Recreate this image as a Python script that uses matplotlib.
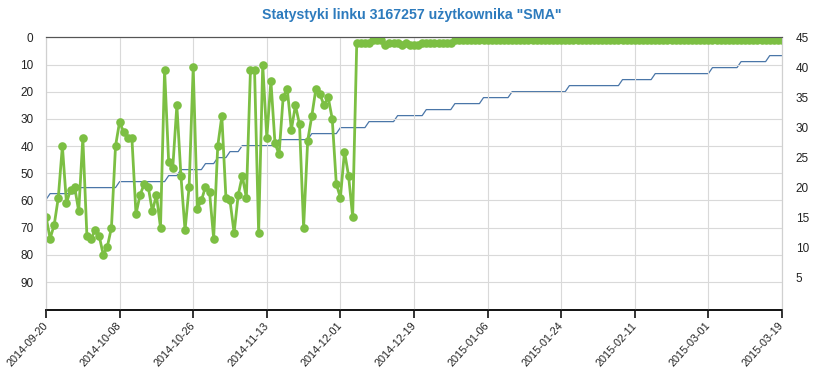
import matplotlib
matplotlib.use("Agg")
import matplotlib.pyplot as plt
import pandas as pd

plt.rcParams['font.family'] = ['Liberation Sans', 'DejaVu Sans']

title = 'Statystyki linku 3167257 użytkownika "SMA"'
start_date = '2014-09-20'

# daily position of the link (left axis, inverted)
position = [
    66, 74, 69, 59, 40, 61, 56, 55, 64, 37, 73, 74, 71, 73, 80, 77, 70, 40, 31, 35,
    37, 37, 65, 58, 54, 55, 64, 58, 70, 12, 46, 48, 25, 51, 71, 55, 11, 63, 60, 55,
    57, 74, 40, 29, 59, 60, 72, 58, 51, 59, 12, 12, 72, 10, 37, 16, 39, 43, 22, 19,
    34, 25, 32, 70, 38, 29, 19, 21, 25, 22, 30, 54, 59, 42, 51, 66,
    2, 2, 2, 2, 1, 1, 1, 3, 2, 2, 2, 3, 2, 3, 3, 3, 2, 2, 2, 2, 2, 2, 2, 2,
    1, 1, 1, 1, 1, 1, 1, 1, 1, 1, 1, 1, 1, 1, 1, 1, 1, 1, 1, 1,
    1, 1, 1, 1, 1, 1, 1, 1, 1, 1, 1, 1, 1, 1, 1, 1, 1, 1, 1, 1,
    1, 1, 1, 1, 1, 1, 1, 1, 1, 1, 1, 1, 1, 1, 1, 1, 1, 1, 1, 1,
    1, 1, 1, 1, 1, 1, 1, 1, 1, 1, 1, 1, 1, 1, 1, 1, 1, 1, 1, 1,
    1,
]

# daily count (right axis)
count = [
    18, 19, 19, 19, 19, 19, 19, 19, 20, 20, 20, 20, 20, 20, 20, 20, 20, 20, 21, 21,
    21, 21, 21, 21, 21, 21, 21, 21, 21, 21, 22, 22, 22, 23, 23, 23, 23, 23, 23, 24,
    24, 24, 25, 25, 25, 26, 26, 26, 27, 27, 27, 27, 27, 27, 27, 27, 27, 28, 28, 28,
    28, 28, 28, 28, 28, 29, 29, 29, 29, 29, 29, 29, 30, 30, 30, 30, 30, 30, 30, 31,
    31, 31, 31, 31, 31, 31, 32, 32, 32, 32, 32, 32, 32, 33, 33, 33, 33, 33, 33, 33,
    34, 34, 34, 34, 34, 34, 34, 35, 35, 35, 35, 35, 35, 35, 36, 36, 36, 36, 36, 36,
    36, 36, 36, 36, 36, 36, 36, 36, 37, 37, 37, 37, 37, 37, 37, 37, 37, 37, 37, 37,
    37, 38, 38, 38, 38, 38, 38, 38, 38, 39, 39, 39, 39, 39, 39, 39, 39, 39, 39, 39,
    39, 39, 39, 40, 40, 40, 40, 40, 40, 40, 41, 41, 41, 41, 41, 41, 41, 42, 42, 42,
    42,
]

date_ticks = ['2014-09-20', '2014-10-08', '2014-10-26', '2014-11-13', '2014-12-01',
              '2014-12-19', '2015-01-06', '2015-01-24', '2015-02-11', '2015-03-01',
              '2015-03-19']
left_ticks = [0, 10, 20, 30, 40, 50, 60, 70, 80, 90]
right_ticks = [5, 10, 15, 20, 25, 30, 35, 40, 45]

dates = pd.date_range(start_date, periods=len(position))
tick_dates = pd.to_datetime(date_ticks)

fig = plt.figure(figsize=(8.16, 3.68), dpi=100)
ax = fig.add_axes([0.0564, 0.1576, 0.9019, 0.741])
ax2 = ax.twinx()

ax.plot(dates, position, color='#7cbf43', lw=2.0, marker='o', ms=6.2,
        markeredgewidth=0, solid_joinstyle='round')
ax2.plot(dates, count, color='#4a76a8', lw=0.9)

# green on top of blue
ax.set_zorder(ax2.get_zorder() + 1)
ax.patch.set_visible(False)

ax.set_xlim(tick_dates[0], tick_dates[-1])
ax.set_ylim(100.3, 0)
ax2.set_ylim(-0.4, 45.05)

ax.set_yticks(left_ticks)
ax2.set_yticks(right_ticks)
ax.set_xticks(tick_dates)
ax.set_xticklabels(date_ticks, rotation=48, ha='right', va='center',
                   rotation_mode='anchor')

ax.grid(True, color='#d9d9d9', lw=0.8)
ax.set_axisbelow(True)
ax2.grid(False)

for a in (ax, ax2):
    a.spines['left'].set_color('#d0d0d0')
    a.spines['right'].set_color('#d0d0d0')
    a.spines['top'].set_color('#555555')
    a.spines['bottom'].set_color('#111111')
    a.spines['bottom'].set_linewidth(1.2)

ax.tick_params(axis='y', length=0, pad=9, labelsize=8.5, colors='#222222')
ax2.tick_params(axis='y', length=0, pad=10, labelsize=8.5, colors='#222222')
ax.tick_params(axis='x', length=6, width=1.2, color='#111111', labelsize=7.8,
               labelcolor='#222222', pad=4)

fig.text(0.504, 0.958, title, ha='center', va='center', fontsize=10.2,
         fontweight='bold', color='#2d7bbd')

fig.savefig('out.png', dpi=100)
